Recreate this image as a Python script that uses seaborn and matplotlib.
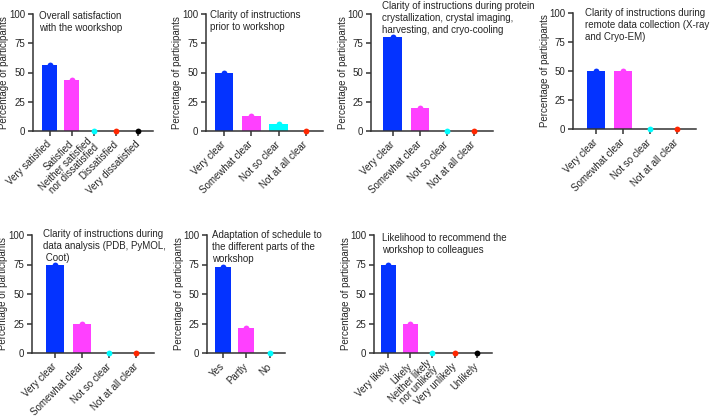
import numpy as np
import matplotlib
matplotlib.use("Agg")
import matplotlib.pyplot as plt
import pandas as pd
import seaborn as sns

# survey answers, % of participants
satisfaction_cats = ["Very satisfied", "Satisfied", "Neither satisfied\nnor dissatisfied",
                     "Dissatisfied", "Very dissatisfied"]
satisfaction_vals = [56.25, 43.75, 0, 0, 0]

clarity_cats = ["Very clear", "Somewhat clear", "Not so clear", "Not at all clear"]
prior_vals = [50, 12.5, 6.25, 0]
crystal_vals = [80, 20, 0, 0]
remote_vals = [50, 50, 0, 0]
analysis_vals = [75, 25, 0, 0]

schedule_cats = ["Yes", "Partly", "No"]
schedule_vals = [73, 21.5, 0]

recommend_cats = ["Very likely", "Likely", "Neither likely\nnor unlikely",
                  "Very unlikely", "Unlikely"]
recommend_vals = [75, 25, 0, 0, 0]

titles = [
    "Overall satisfaction\nwith the woorkshop",
    "Clarity of instructions\nprior to workshop",
    "Clarity of instructions during protein\ncrystallization, crystal imaging,\nharvesting, and cryo-cooling",
    "Clarity of instructions during\nremote data collection (X-ray\nand Cryo-EM)",
    "Clarity of instructions during\ndata analysis (PDB, PyMOL,\n Coot)",
    "Adaptation of schedule to\nthe different parts of the\nworkshop",
    "Likelihood to recommend the\nworkshop to colleagues",
]

panels = [
    (satisfaction_cats, satisfaction_vals),
    (clarity_cats, prior_vals),
    (clarity_cats, crystal_vals),
    (clarity_cats, remote_vals),
    (clarity_cats, analysis_vals),
    (schedule_cats, schedule_vals),
    (recommend_cats, recommend_vals),
]

colors = ["#0433FF", "#FF40FF", "#00FDFF", "#FF2600", "#000000"]

W, H = 711, 418
# axes boxes in pixels: left, right, y of 100, y of 0
boxes = [
    (33, 153, 14, 131), (206, 323, 14, 131), (371, 493, 14, 131), (573, 696, 13, 129),
    (32, 154, 235, 353), (207, 285, 235, 353), (374, 492, 235, 353),
]
# x limits (left pad, right pad) in category units
pads = [(0.77, 0.68), (0.66, 0.62), (0.8, 0.7), (0.84, 0.7),
        (0.85, 0.65), (0.68, 0.64), (0.65, 0.7)]
# title anchor: x offset from spine (px), y of first line centre (px)
title_pos = [(6, 16), (4, 15), (11, 6), (12, 13), (11, 234), (5, 235), (8, 238)]

sns.set_style("ticks")
plt.rcParams["font.family"] = ["Liberation Sans", "DejaVu Sans"]
plt.rcParams["font.size"] = 7

fig = plt.figure(figsize=(W / 100, H / 100), dpi=100)
axcol = "#333333"

for i, ((cats, vals), box) in enumerate(zip(panels, boxes)):
    l, r, t, b = box
    ax = fig.add_axes([l / W, 1 - b / H, (r - l) / W, (b - t) / H])
    df = pd.DataFrame({"cat": cats, "val": vals})
    pal = colors[:len(cats)]
    sns.barplot(data=df, x="cat", y="val", hue="cat", palette=pal, legend=False,
                width=0.68, saturation=1, ax=ax, errorbar=None, linewidth=0)
    sns.stripplot(data=df, x="cat", y="val", hue="cat", palette=pal, legend=False,
                  jitter=False, size=4.2, ax=ax, zorder=5)
    for coll in ax.collections:
        coll.set_clip_on(False)
    n = len(cats)
    ax.set_xlim(-pads[i][0], n - 1 + pads[i][1])
    ax.set_ylim(0, 100)
    ax.set_yticks([0, 25, 50, 75, 100])
    ax.set_xlabel("")
    ax.set_ylabel("Percentage of participants", fontsize=7)
    ax.yaxis.set_label_coords(-23.5 / (r - l), 0.5)
    ax.set_xticks(range(n))
    ax.set_xticklabels(cats, rotation=45, ha="right", va="center",
                       rotation_mode="anchor", fontsize=7, linespacing=0.92)
    ax.tick_params(axis="both", labelsize=7, length=3.5, width=1.1, color=axcol, pad=2)
    ax.tick_params(axis="x", pad=5)
    for s in ["left", "bottom"]:
        ax.spines[s].set_linewidth(1.1)
        ax.spines[s].set_color(axcol)
    sns.despine(ax=ax)
    tx, ty = title_pos[i]
    fig.text((l + tx) / W, 1 - (ty - 5) / H, titles[i], ha="left", va="top",
             fontsize=7, linespacing=1.25)

fig.savefig("out.png", dpi=100)
